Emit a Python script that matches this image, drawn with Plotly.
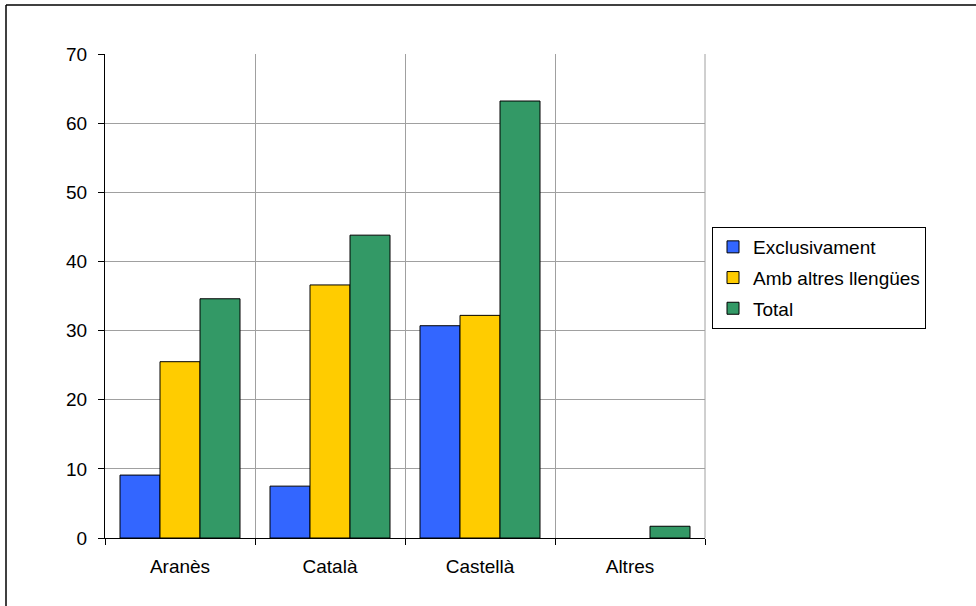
import plotly.graph_objects as go

categories = ["Aranès", "Català", "Castellà", "Altres"]
exclusivament = [9.1, 7.5, 30.7, 0]
amb_altres = [25.5, 36.6, 32.2, 0]
total = [34.6, 43.8, 63.2, 1.7]
series_names = ["Exclusivament", "Amb altres llengües", "Total"]
colors = ["#3366FF", "#FFCC00", "#339966"]
y_ticks = [0, 10, 20, 30, 40, 50, 60, 70]

W, H = 976, 606
L, R, T, B = 105, 271, 54, 68
pw, ph = W - L - R, H - T - B

fig = go.Figure()
for name, vals, col in zip(series_names, [exclusivament, amb_altres, total], colors):
    fig.add_trace(go.Bar(x=categories, y=vals, name=name, legendgroup=name,
                         marker=dict(color=col,
                                     line=dict(color="black",
                                               width=[1 if v > 0 else 0 for v in vals]))))

font = dict(family="Liberation Sans, Arial, sans-serif", size=19, color="black")

def px_x(px):
    return (px - L) / pw

def px_y(py):
    return (H - B - py) / ph

fig.update_layout(
    width=W, height=H,
    margin=dict(l=L, r=R, t=T, b=B, autoexpand=False),
    paper_bgcolor="white", plot_bgcolor="white",
    barmode="group", bargap=0.2, bargroupgap=0,
    font=font,
    showlegend=True,
    legend=dict(x=px_x(712), y=px_y(227), xanchor="left", yanchor="top",
                bordercolor="black", borderwidth=1, bgcolor="white",
                font=font, tracegroupgap=3, itemwidth=30),
    xaxis=dict(showline=True, linecolor="black", linewidth=1,
               ticks="outside", ticklen=6, tickcolor="black",
               tickson="boundaries", showgrid=True, gridcolor="#A0A0A0", gridwidth=1,
               mirror=False, tickfont=font, ticklabelstandoff=11),
    yaxis=dict(range=[0, 70], tickvals=y_ticks, showline=True, linecolor="black", linewidth=1,
               ticks="outside", ticklen=6, tickcolor="black",
               showgrid=True, gridcolor="#A0A0A0", gridwidth=1, zeroline=False,
               tickfont=font, ticklabelstandoff=7),
    shapes=[
        dict(type="line", xref="paper", yref="paper", x0=1, x1=1, y0=0, y1=1,
             line=dict(color="#A0A0A0", width=1)),
        dict(type="line", xref="paper", yref="paper", x0=px_x(6), x1=px_x(980), y0=px_y(5), y1=px_y(5),
             line=dict(color="black", width=1.5)),
        dict(type="line", xref="paper", yref="paper", x0=px_x(6), x1=px_x(6), y0=px_y(5), y1=px_y(610),
             line=dict(color="black", width=1.5)),
    ],
)

fig.write_html("out.html", config={"displayModeBar": False},
               post_script="document.body.style.margin='0';document.body.style.padding='0';")
